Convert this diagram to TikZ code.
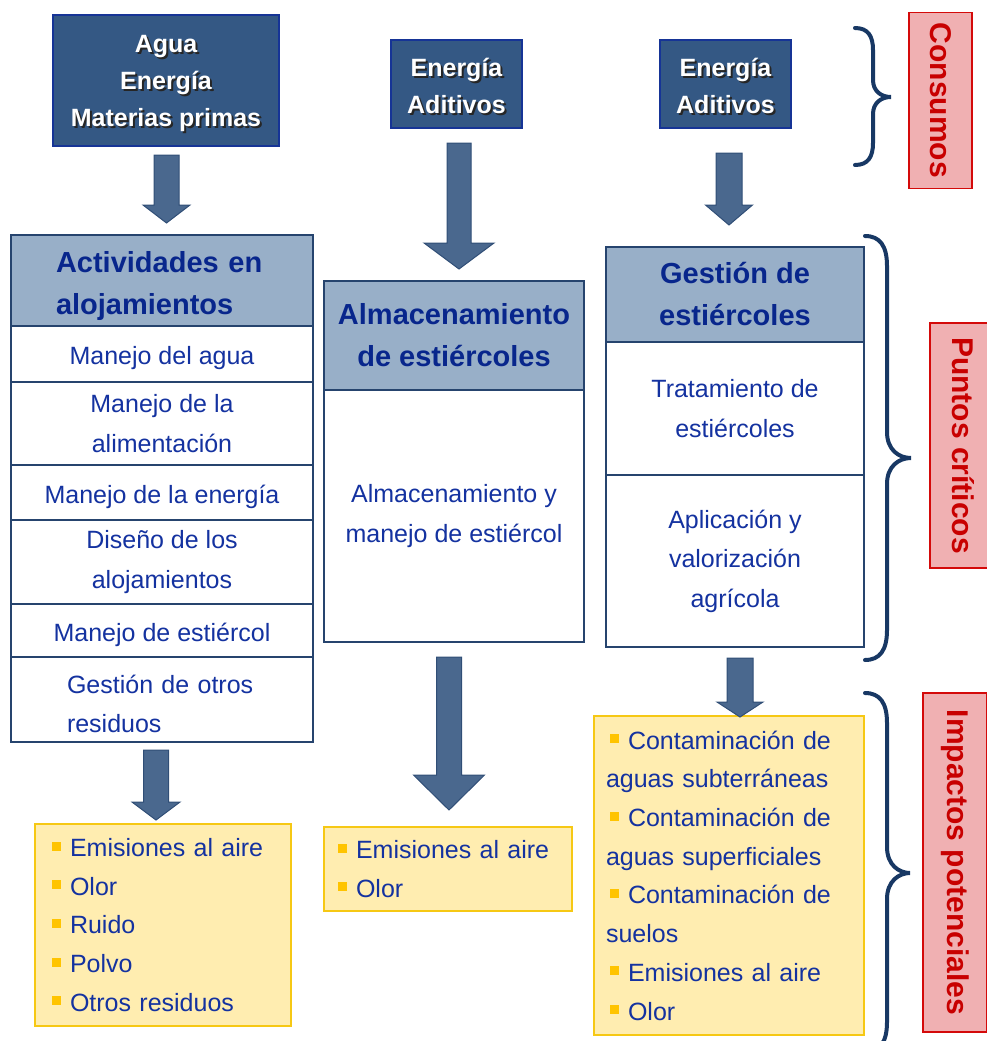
\documentclass[tikz,border=0pt]{standalone}
\usepackage{fontspec}
\setmainfont{Liberation Sans}
\usetikzlibrary{calc}
\definecolor{darkfill}{RGB}{52,88,132}
\definecolor{darkborder}{RGB}{22,52,150}
\definecolor{hdrfill}{RGB}{152,175,200}
\definecolor{tblborder}{RGB}{38,68,110}
\definecolor{hdrtext}{RGB}{8,38,140}
\definecolor{bodytext}{RGB}{20,50,160}
\definecolor{yelfill}{RGB}{255,237,176}
\definecolor{yelborder}{RGB}{246,200,20}
\definecolor{bulcol}{RGB}{255,196,0}
\definecolor{labfill}{RGB}{240,176,178}
\definecolor{labborder}{RGB}{212,10,10}
\definecolor{labtext}{RGB}{200,0,0}
\definecolor{arrfill}{RGB}{74,104,142}
\definecolor{arrborder}{RGB}{48,78,118}
\definecolor{brcolor}{RGB}{24,56,100}
\newcommand\bul{\hspace*{4pt}\textcolor{bulcol}{\rule[6pt]{9pt}{9pt}}\hspace{9pt}}
\newcommand\blockarrow[6]{% cx, top, headtop, tip, halfshaft, halfhead
  \path[arr] ({#1-#5},#2) -- ({#1+#5},#2) -- ({#1+#5},#3) -- ({#1+#6},#3) -- (#1,#4) -- ({#1-#6},#3) -- ({#1-#5},#3) -- cycle;}
\begin{document}
\begin{tikzpicture}[x=1pt,y=-1pt,
  darkbox/.style={draw=darkborder, line width=2.5pt, fill=darkfill, inner sep=0pt},
  whitetxt/.style={text=white, font=\bfseries\fontsize{25}{37}\selectfont, align=center, inner sep=0pt},
  shadowtxt/.style={whitetxt, text=black!85},
  tbl/.style={draw=tblborder, line width=1.8pt, fill=white, inner sep=0pt, text=bodytext, font=\fontsize{25}{39.5}\selectfont, align=center, execute at begin node={\rule{0pt}{27pt}}},
  hdr/.style={tbl, fill=hdrfill, text=hdrtext, font=\bfseries\fontsize{29}{42}\selectfont, execute at begin node={\rule{0pt}{32pt}}},
  yel/.style={draw=yelborder, line width=1.8pt, fill=yelfill, inner sep=0pt, text=bodytext, font=\fontsize{25}{38.7}\selectfont, align=left},
  lab/.style={draw=labborder, line width=1.8pt, fill=labfill, text=labtext, font=\bfseries\fontsize{30}{36}\selectfont, rotate=-90, inner sep=0pt},
  arr/.style={fill=arrfill, draw=arrborder, line width=1pt, line join=miter},
  brc/.style={draw=brcolor, line width=4pt, line cap=round}
]
\useasboundingbox (0,0) rectangle (987,1041);

% top consumption boxes
\node[darkbox, minimum width=226, minimum height=131] (c1) at (166,80.5) {};
\node[shadowtxt] at ($(c1)+(2,5)$) {Agua\\Energía\\Materias primas};
\node[whitetxt] (t1) at ($(c1)+(0,3)$) {Agua\\Energía\\Materias primas};
\node[darkbox, minimum width=131, minimum height=88] (c2) at (456.5,84) {};
\node[shadowtxt] at ($(c2)+(2,4)$) {Energía\\Aditivos};
\node[whitetxt] (t2) at ($(c2)+(0,2)$) {Energía\\Aditivos};
\node[darkbox, minimum width=131, minimum height=88] (c3) at (725.5,84) {};
\node[shadowtxt] at ($(c3)+(2,4)$) {Energía\\Aditivos};
\node[whitetxt] (t3) at ($(c3)+(0,2)$) {Energía\\Aditivos};

% left table
\node[hdr, minimum width=302, minimum height=91, text width=212, align=left] (h1) at (162,280.5) {Actividades en\\alojamientos};
\node[tbl, minimum width=302, minimum height=56] (r11) at (162,354) {Manejo del agua};
\node[tbl, minimum width=302, minimum height=83] (r12) at (162,423.5) {Manejo de la\\alimentación};
\node[tbl, minimum width=302, minimum height=55] (r13) at (162,492.5) {Manejo de la energía};
\node[tbl, minimum width=302, minimum height=84] (r14) at (162,562) {Diseño de los\\alojamientos};
\node[tbl, minimum width=302, minimum height=53] (r15) at (162,630.5) {Manejo de estiércol};
\node[tbl, minimum width=302, minimum height=85, text width=190, align=left] (r16) at (162,699.5) {Gestión de otros\\residuos};

% middle table
\node[hdr, minimum width=260, minimum height=109] (h2) at (454,335.5) {Almacenamiento\\de estiércoles};
\node[tbl, minimum width=260, minimum height=252] (b2) at (454,516) {Almacenamiento y\\manejo de estiércol};

% right table
\node[hdr, minimum width=258, minimum height=95] (h3) at (735,294.5) {Gestión de\\estiércoles};
\node[tbl, minimum width=258, minimum height=133] (r31) at (735,408.5) {Tratamiento de\\estiércoles};
\node[tbl, minimum width=258, minimum height=172] (r32) at (735,561) {Aplicación y\\valorización\\agrícola};

% impact boxes
\node[yel, minimum width=256, minimum height=202, text width=230] (y1) at (163,925)
  {\bul Emisiones al aire\\\bul Olor\\\bul Ruido\\\bul Polvo\\\bul Otros residuos};
\node[yel, minimum width=248, minimum height=84, text width=228] (y2) at (448,869)
  {\bul Emisiones al aire\\\bul Olor};
\node[yel, minimum width=270, minimum height=319, text width=246] (y3) at (729,875.5)
  {\bul Contaminación de\\aguas subterráneas\\\bul Contaminación de\\aguas superficiales\\\bul Contaminación de\\suelos\\\bul Emisiones al aire\\\bul Olor};

% block arrows
\blockarrow{166.5}{155}{205}{223}{12.5}{23.5}
\blockarrow{459}{143}{243}{269}{12}{35}
\blockarrow{729}{153}{205}{225}{13}{23.5}
\blockarrow{156}{750}{802}{820}{12.5}{24}
\blockarrow{449}{657}{775}{810}{12.5}{35.5}
\blockarrow{740}{658}{702}{717}{13}{23}

% braces
\draw[brc] (855,28) .. controls (868,28) and (873,36) .. (873,50) -- (873,80)
  .. controls (873,91) and (881,97) .. (891,97)
  .. controls (881,97) and (873,103) .. (873,114) -- (873,143)
  .. controls (873,157) and (868,165) .. (855,165);
\draw[brc] (865,236) .. controls (880,236) and (887,246) .. (887,266) -- (887,432)
  .. controls (887,450) and (899,458) .. (911,458)
  .. controls (899,458) and (887,466) .. (887,484) -- (887,630)
  .. controls (887,650) and (880,660) .. (865,660);
\draw[brc] (865,693) .. controls (880,693) and (887,703) .. (887,723) -- (887,847)
  .. controls (887,865) and (899,873) .. (910,873)
  .. controls (899,873) and (887,881) .. (887,899) -- (887,1022)
  .. controls (887,1042) and (880,1052) .. (865,1052);

% labels
\node[lab, minimum width=176, minimum height=63] (l1) at (940.5,100.5) {Consumos};
\node[lab, minimum width=245, minimum height=66] (l2) at (963,445.5) {Puntos críticos};
\node[lab, minimum width=339, minimum height=64] (l3) at (955,862.5) {Impactos potenciales};
\end{tikzpicture}
\end{document}
